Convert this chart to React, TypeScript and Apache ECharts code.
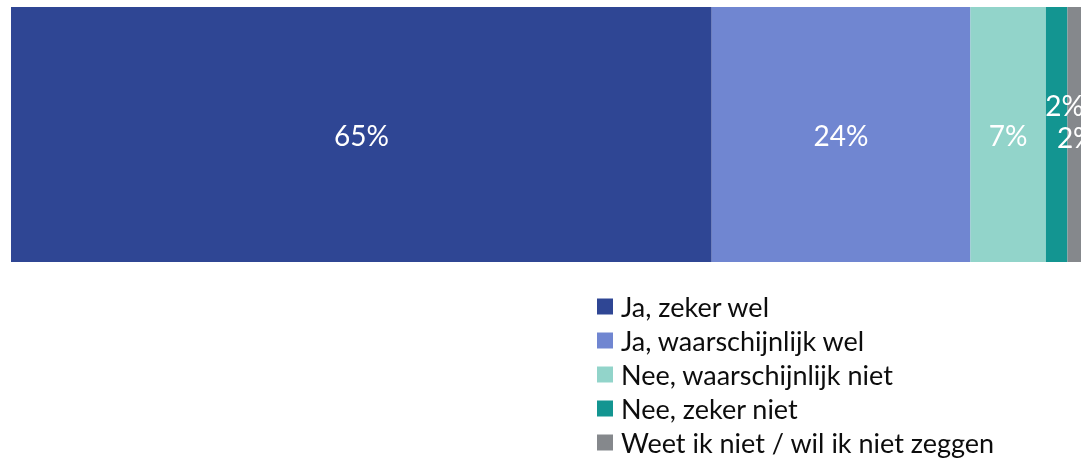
import React, { useEffect, useRef } from "react";
import * as echarts from "echarts";

const categories = ["Antwoord"];
const seriesNames = [
  "Ja, zeker wel",
  "Ja, waarschijnlijk wel",
  "Nee, waarschijnlijk niet",
  "Nee, zeker niet",
  "Weet ik niet / wil ik niet zeggen",
];
const seriesValues = [65, 24, 7, 2, 2];
const seriesColors = ["#2F4694", "#7086D1", "#92D4CA", "#139591", "#85888C"];
const labelOffsets: [number, number][] = [[0, 0], [0, 0], [0, 0], [8, -30], [-2, 2]];

export default function App() {
  const ref = useRef<HTMLDivElement>(null);
  useEffect(() => {
    if (!ref.current) return;
    const chart = echarts.init(ref.current, undefined, { renderer: "svg" });
    const font = "Lato, 'Noto Sans', sans-serif";
    chart.setOption({
      animation: false,
      grid: { left: 11, top: 7, height: 255, width: 1078, containLabel: false },
      xAxis: { type: "value", min: 0, max: 100, show: false },
      yAxis: { type: "category", data: categories, show: false },
      legend: {
        orient: "vertical",
        left: 597,
        top: 293,
        height: 200,
        padding: 0,
        itemWidth: 16,
        itemHeight: 16,
        itemGap: 7,
        icon: "rect",
        textStyle: { fontFamily: font, fontSize: 27, color: "#0D0D0D", lineHeight: 24, padding: [0, 0, 0, 3] },
        data: seriesNames,
      },
      series: seriesNames.map((name, i) => ({
        name,
        type: "bar",
        stack: "total",
        barWidth: "100%",
        data: [seriesValues[i]],
        itemStyle: { color: seriesColors[i] },
        label: {
          show: true,
          position: "inside",
          offset: labelOffsets[i],
          formatter: "{c}%",
          color: "#FFFFFF",
          fontFamily: font,
          fontSize: 28,
        },
      })),
    });
    return () => chart.dispose();
  }, []);
  return <div ref={ref} style={{ position: "fixed", left: 0, top: 0, width: 1100, height: 458 }} />;
}
